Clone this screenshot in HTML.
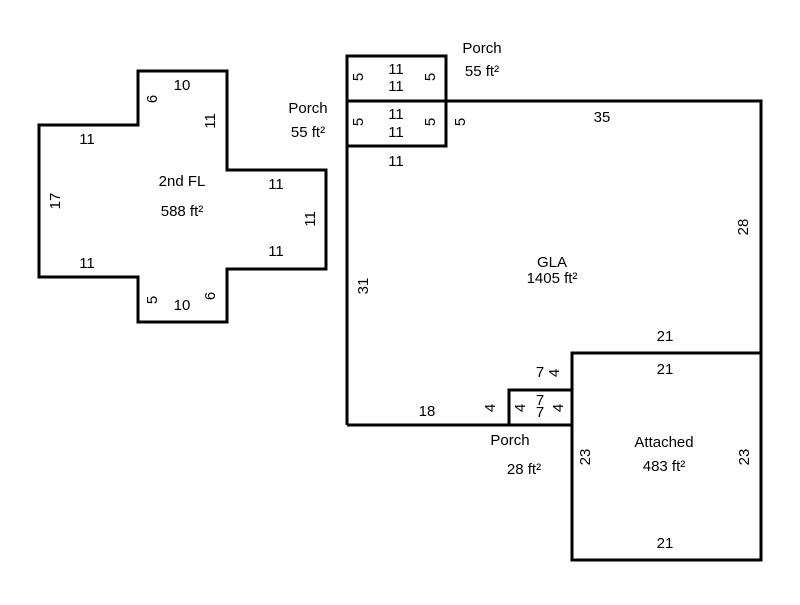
<!DOCTYPE html>
<html><head><style>
body{margin:0;background:#fff}
svg text{font-family:"Liberation Sans",sans-serif;font-size:15px;fill:#000}
</style></head><body>
<svg width="800" height="600" xmlns="http://www.w3.org/2000/svg">
<g fill="none" stroke="#000" stroke-width="3">
<polygon points="138,71 227,71 227,170 326,170 326,269 227,269 227,322 138,322 138,277 39,277 39,125 138,125"/>
<polyline points="446,101 761,101 761,353 572,353"/>
<line x1="347" y1="146" x2="347" y2="425"/>
<line x1="347" y1="425" x2="509" y2="425"/>
<rect x="347" y="56" width="99" height="90"/>
<line x1="347" y1="101" x2="446" y2="101"/>
<rect x="572" y="353" width="189" height="207"/>
<rect x="509" y="390" width="63" height="35"/>
</g>
<g text-anchor="middle">
<text x="182" y="90">10</text>
<text x="87" y="144">11</text>
<text x="276" y="189">11</text>
<text x="276" y="256">11</text>
<text x="87" y="268">11</text>
<text x="182" y="310">10</text>
<text x="182" y="186">2nd FL</text>
<text x="182" y="216">588 ft²</text>
<text transform="translate(157,99) rotate(-90)">6</text>
<text transform="translate(215,121) rotate(-90)">11</text>
<text transform="translate(60,201) rotate(-90)">17</text>
<text transform="translate(315,219) rotate(-90)">11</text>
<text transform="translate(157,300) rotate(-90)">5</text>
<text transform="translate(215,296) rotate(-90)">6</text>
<text x="482" y="53">Porch</text>
<text x="482" y="76">55 ft²</text>
<text x="308" y="113">Porch</text>
<text x="308" y="137">55 ft²</text>
<text x="396" y="74">11</text>
<text x="396" y="91">11</text>
<text x="396" y="119">11</text>
<text x="396" y="137">11</text>
<text x="396" y="166">11</text>
<text transform="translate(363,77) rotate(-90)">5</text>
<text transform="translate(435,77) rotate(-90)">5</text>
<text transform="translate(363,122) rotate(-90)">5</text>
<text transform="translate(435,122) rotate(-90)">5</text>
<text transform="translate(465,122) rotate(-90)">5</text>
<text x="602" y="122">35</text>
<text transform="translate(748,227) rotate(-90)">28</text>
<text x="552" y="267">GLA</text>
<text x="552" y="283">1405 ft²</text>
<text transform="translate(368,286) rotate(-90)">31</text>
<text x="665" y="341">21</text>
<text x="665" y="374">21</text>
<text x="540" y="377">7</text>
<text transform="translate(559,373) rotate(-90)">4</text>
<text x="540" y="405">7</text>
<text x="540" y="417">7</text>
<text transform="translate(525,408) rotate(-90)">4</text>
<text transform="translate(563,408) rotate(-90)">4</text>
<text transform="translate(495,408) rotate(-90)">4</text>
<text x="427" y="416">18</text>
<text x="510" y="445">Porch</text>
<text x="524" y="474">28 ft²</text>
<text x="664" y="447">Attached</text>
<text x="664" y="471">483 ft²</text>
<text transform="translate(590,457) rotate(-90)">23</text>
<text transform="translate(749,457) rotate(-90)">23</text>
<text x="665" y="548">21</text>
</g>
</svg>
</body></html>
